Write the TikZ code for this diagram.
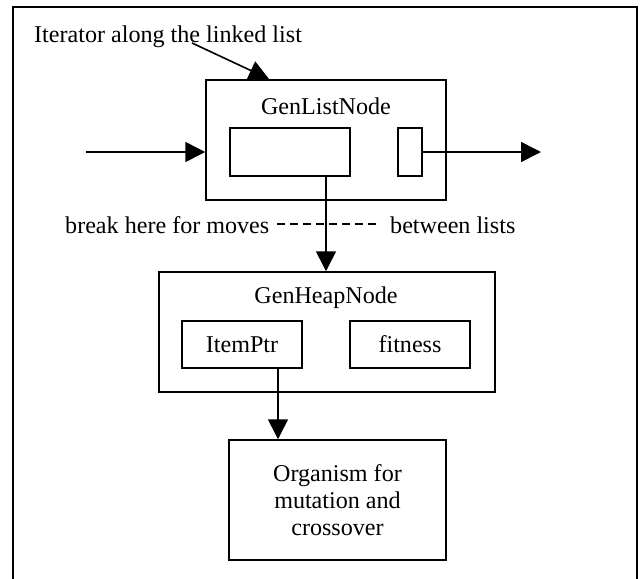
\documentclass[tikz,border=0pt]{standalone}
\usepackage{fontspec}
\setmainfont{Liberation Serif}
\usetikzlibrary{arrows.meta}
\begin{document}
\begin{tikzpicture}[x=1pt,y=-1pt,
  every node/.style={font=\fontsize{24.1}{27}\selectfont, inner sep=0pt},
  boxed/.style={draw, line width=1.5pt, minimum width=#1},
  label text/.style={anchor=base},
  conn/.style={line width=1.6pt, -{Triangle[length=20pt,width=20pt]}},
  ]
\useasboundingbox (0,0) rectangle (641,579);
\clip (0,0) rectangle (641,579);
% outer frame (open at the bottom edge)
\draw[line width=2pt] (13,600) -- (13,7) -- (637,7) -- (637,600);

% list node with its two slots
\node[boxed, minimum width=240pt, minimum height=120pt] (list) at (326,140) {};
\node (listlabel) at (326,106) {GenListNode};
\node[boxed, minimum width=120pt, minimum height=48pt] (payload) at (290,152) {};
\node[boxed, minimum width=24pt, minimum height=48pt] (next) at (410,152) {};

% heap node with its two fields
\node[boxed, minimum width=336pt, minimum height=120pt] (heap) at (327,332) {};
\node (heaplabel) at (326,298) {GenHeapNode};
\node[boxed, minimum width=120pt, minimum height=47pt] (itemptr) at (242,344.5) {ItemPtr};
\node[boxed, minimum width=120pt, minimum height=47pt] (fitness) at (410,344.5) {fitness};

% organism
\node[boxed, minimum width=217pt, minimum height=120pt, align=center] (org) at (337.5,500) {Organism for\\mutation and\\crossover};

% labels
\node[label text, anchor=base west] (iter) at (34,42) {Iterator along the linked list};
\node[label text, anchor=base west] (brk) at (65,233) {break here for moves};
\node[label text, anchor=base west] (btw) at (390,233) {between lists};

% free ends
\coordinate (inStart) at (86,152);
\coordinate (outEnd) at (541,152);
\coordinate (iterStart) at (192,43);
\coordinate (iterEnd) at (269,79);
\coordinate (dashA) at (277,224);
\coordinate (dashB) at (376,224);

% connectors
\draw[conn] (inStart) -- (list.west |- inStart);
\draw[conn] (next.east) -- (outEnd);
\draw[conn] (iterStart) -- (iterEnd);
\draw[conn] (payload.south -| 326,0) -- (heap.north -| 326,0);
\draw[conn] (itemptr.south -| 278,0) -- (org.north -| 278,0);
\draw[line width=1.2pt, dash pattern=on 8pt off 5pt] (dashA) -- (dashB);
\end{tikzpicture}
\end{document}
